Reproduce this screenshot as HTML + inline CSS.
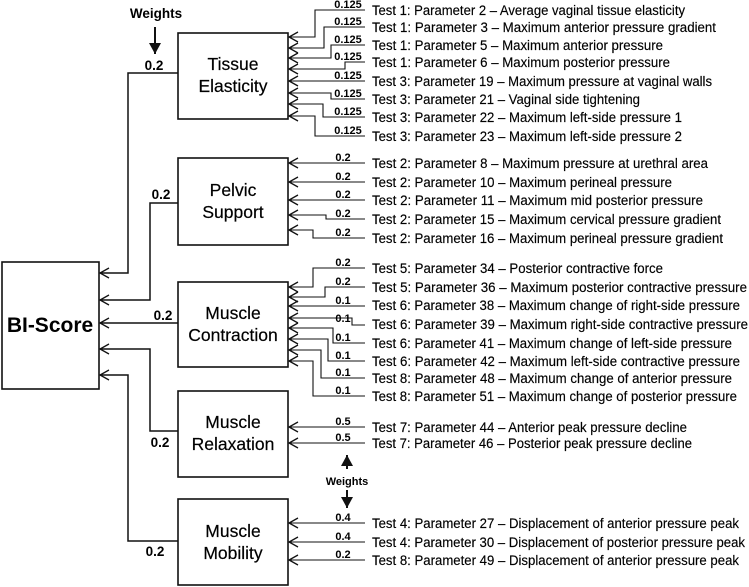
<!DOCTYPE html>
<html><head><meta charset="utf-8"><style>
html,body{margin:0;padding:0;background:#fff}
svg{display:block}
text{font-family:"Liberation Sans",sans-serif;fill:#000}
.t{font-size:13.5px;stroke:#000;stroke-width:0.15}
.n{font-size:11px;font-weight:bold;text-anchor:middle}
.b{font-size:17.5px;text-anchor:middle;stroke:#000;stroke-width:0.2}
.w{font-size:13.5px;text-anchor:middle;font-weight:bold}
</style></head><body>
<svg width="749" height="587" viewBox="0 0 749 587" xmlns="http://www.w3.org/2000/svg">
<defs>
<marker id="a" markerUnits="userSpaceOnUse" markerWidth="14" markerHeight="14" refX="10" refY="6" orient="auto">
<path d="M1,1 L10,6 L1,11" fill="none" stroke="#111" stroke-width="1.3"/>
</marker>
<marker id="f" markerUnits="userSpaceOnUse" markerWidth="14" markerHeight="14" refX="11" refY="6" orient="auto">
<path d="M0,0 L11,6 L0,12 Z" fill="#111"/>
</marker>
</defs>
<g fill="none" stroke="#111" stroke-width="1.6">
<rect x="2" y="262" width="97" height="127"/>
<rect x="178" y="33" width="110" height="86"/>
<rect x="178" y="158" width="110" height="87"/>
<rect x="178" y="282" width="110" height="85"/>
<rect x="178" y="391" width="110" height="86"/>
<rect x="178" y="499" width="110" height="86"/>
</g>
<g fill="none" stroke="#111" stroke-width="1.5" marker-end="url(#a)">
<path d="M178,73 H128 V273 H100"/>
<path d="M178,203 H150 V300 H100"/>
<path d="M178,323 H100"/>
<path d="M178,431 H150 V349 H100"/>
<path d="M178,541 H128 V375 H100"/>
</g>
<g fill="none" stroke="#111" stroke-width="1.1" marker-end="url(#a)">
<path d="M365,10 H315 V37 H289"/>
<path d="M365,27 H324 V48 H289"/>
<path d="M365,45 H331 V58 H289"/>
<path d="M365,62 H345 V69 H289"/>
<path d="M365,81 H289"/>
<path d="M365,99 H331 V93 H289"/>
<path d="M365,117 H323 V104 H289"/>
<path d="M365,136 H315 V116 H289"/>
<path d="M365,163 H289"/>
<path d="M365,182 H289"/>
<path d="M365,200 H289"/>
<path d="M365,219 H326 V215 H289"/>
<path d="M365,238 H313 V230 H289"/>
<path d="M365,268 H313 V287 H289"/>
<path d="M365,287 H325 V297 H289"/>
<path d="M365,306 H289"/>
<path d="M365,325 H352 V318 H289"/>
<path d="M365,343 H333 V328 H289"/>
<path d="M365,361 H328 V339 H289"/>
<path d="M365,378 H321 V350 H289"/>
<path d="M365,396 H313 V361 H289"/>
<path d="M365,427 H289"/>
<path d="M365,443 H289"/>
<path d="M365,523 H289"/>
<path d="M365,542 H289"/>
<path d="M365,560 H289"/>
</g>
<g stroke="#111" stroke-width="2">
<path d="M155,27 V54" marker-end="url(#f)"/>
<path d="M347,469 V455" marker-end="url(#f)"/>
<path d="M347,490 V508" marker-end="url(#f)"/>
</g>
<text x="50" y="332" style="font-size:21px;font-weight:bold;text-anchor:middle">BI-Score</text>
<text class="b" x="233" y="70">Tissue</text><text class="b" x="233" y="92">Elasticity</text>
<text class="b" x="233" y="196">Pelvic</text><text class="b" x="233" y="218">Support</text>
<text class="b" x="233" y="319">Muscle</text><text class="b" x="233" y="341">Contraction</text>
<text class="b" x="233" y="428">Muscle</text><text class="b" x="233" y="450">Relaxation</text>
<text class="b" x="233" y="537">Muscle</text><text class="b" x="233" y="559">Mobility</text>
<text class="w" x="156" y="18">Weights</text>
<text class="w" x="347" y="485" style="font-size:11px">Weights</text>
<g style="font-size:13.5px;text-anchor:middle;font-weight:bold">
<text x="154" y="70">0.2</text>
<text x="161" y="199">0.2</text>
<text x="163" y="320">0.2</text>
<text x="160" y="447">0.2</text>
<text x="155" y="556">0.2</text>
</g>
<g class="n">
<text x="348" y="8">0.125</text><text x="348" y="25">0.125</text><text x="348" y="43">0.125</text><text x="348" y="60">0.125</text>
<text x="348" y="79">0.125</text><text x="348" y="97">0.125</text><text x="348" y="115">0.125</text><text x="348" y="134">0.125</text>
<text x="343" y="161">0.2</text><text x="343" y="180">0.2</text><text x="343" y="198">0.2</text><text x="343" y="217">0.2</text><text x="343" y="236">0.2</text>
<text x="343" y="266">0.2</text><text x="343" y="285">0.2</text><text x="343" y="304">0.1</text><text x="343" y="322">0.1</text>
<text x="343" y="341">0.1</text><text x="343" y="359">0.1</text><text x="343" y="376">0.1</text><text x="343" y="394">0.1</text>
<text x="343" y="425">0.5</text><text x="343" y="441">0.5</text>
<text x="343" y="521">0.4</text><text x="343" y="540">0.4</text><text x="343" y="558">0.2</text>
</g>
<g class="t">
<text x="372" y="15" textLength="313" lengthAdjust="spacingAndGlyphs">Test 1: Parameter 2 – Average vaginal tissue elasticity</text>
<text x="372" y="32" textLength="344" lengthAdjust="spacingAndGlyphs">Test 1: Parameter 3 – Maximum anterior pressure gradient</text>
<text x="372" y="50" textLength="291" lengthAdjust="spacingAndGlyphs">Test 1: Parameter 5 – Maximum anterior pressure</text>
<text x="372" y="67" textLength="298" lengthAdjust="spacingAndGlyphs">Test 1: Parameter 6 – Maximum posterior pressure</text>
<text x="372" y="86" textLength="340" lengthAdjust="spacingAndGlyphs">Test 3: Parameter 19 – Maximum pressure at vaginal walls</text>
<text x="372" y="104" textLength="268" lengthAdjust="spacingAndGlyphs">Test 3: Parameter 21 – Vaginal side tightening</text>
<text x="372" y="122" textLength="310" lengthAdjust="spacingAndGlyphs">Test 3: Parameter 22 – Maximum left-side pressure 1</text>
<text x="372" y="141" textLength="310" lengthAdjust="spacingAndGlyphs">Test 3: Parameter 23 – Maximum left-side pressure 2</text>
<text x="372" y="168" textLength="336" lengthAdjust="spacingAndGlyphs">Test 2: Parameter 8 – Maximum pressure at urethral area</text>
<text x="372" y="187" textLength="300" lengthAdjust="spacingAndGlyphs">Test 2: Parameter 10 – Maximum perineal pressure</text>
<text x="372" y="205" textLength="331" lengthAdjust="spacingAndGlyphs">Test 2: Parameter 11 – Maximum mid posterior pressure</text>
<text x="372" y="224" textLength="349" lengthAdjust="spacingAndGlyphs">Test 2: Parameter 15 – Maximum cervical pressure gradient</text>
<text x="372" y="243" textLength="351" lengthAdjust="spacingAndGlyphs">Test 2: Parameter 16 – Maximum perineal pressure gradient</text>
<text x="372" y="273" textLength="291" lengthAdjust="spacingAndGlyphs">Test 5: Parameter 34 – Posterior contractive force</text>
<text x="372" y="292" textLength="375" lengthAdjust="spacingAndGlyphs">Test 5: Parameter 36 – Maximum posterior contractive pressure</text>
<text x="372" y="310" textLength="368" lengthAdjust="spacingAndGlyphs">Test 6: Parameter 38 – Maximum change of right-side pressure</text>
<text x="372" y="329" textLength="376" lengthAdjust="spacingAndGlyphs">Test 6: Parameter 39 – Maximum right-side contractive pressure</text>
<text x="372" y="348" textLength="360" lengthAdjust="spacingAndGlyphs">Test 6: Parameter 41 – Maximum change of left-side pressure</text>
<text x="372" y="366" textLength="368" lengthAdjust="spacingAndGlyphs">Test 6: Parameter 42 – Maximum left-side contractive pressure</text>
<text x="372" y="383" textLength="360" lengthAdjust="spacingAndGlyphs">Test 8: Parameter 48 – Maximum change of anterior pressure</text>
<text x="372" y="401" textLength="365" lengthAdjust="spacingAndGlyphs">Test 8: Parameter 51 – Maximum change of posterior pressure</text>
<text x="372" y="432" textLength="315" lengthAdjust="spacingAndGlyphs">Test 7: Parameter 44 – Anterior peak pressure decline</text>
<text x="372" y="448" textLength="320" lengthAdjust="spacingAndGlyphs">Test 7: Parameter 46 – Posterior peak pressure decline</text>
<text x="372" y="528" textLength="367" lengthAdjust="spacingAndGlyphs">Test 4: Parameter 27 – Displacement of anterior pressure peak</text>
<text x="372" y="547" textLength="373" lengthAdjust="spacingAndGlyphs">Test 4: Parameter 30 – Displacement of posterior pressure peak</text>
<text x="372" y="565" textLength="367" lengthAdjust="spacingAndGlyphs">Test 8: Parameter 49 – Displacement of anterior pressure peak</text>
</g>
</svg>
</body></html>
